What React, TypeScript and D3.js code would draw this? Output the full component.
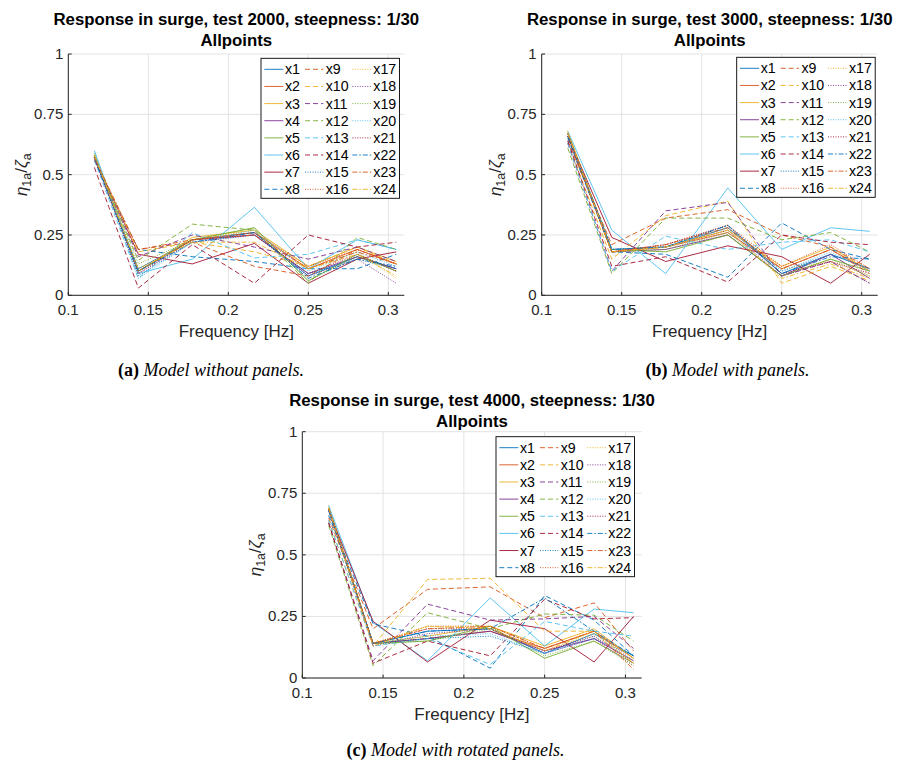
import * as d3 from 'd3'

const freqs = [0.1163, 0.1438, 0.1775, 0.2163, 0.25, 0.2806, 0.305]

// test 2000 - model without panels
const test2000 = [
  [0.58, 0.11, 0.23, 0.26, 0.08, 0.16, 0.11],
  [0.58, 0.10, 0.23, 0.26, 0.11, 0.19, 0.13],
  [0.59, 0.10, 0.24, 0.27, 0.12, 0.20, 0.14],
  [0.57, 0.10, 0.23, 0.25, 0.09, 0.16, 0.11],
  [0.58, 0.10, 0.23, 0.28, 0.06, 0.17, 0.10],
  [0.60, 0.09, 0.15, 0.365, 0.11, 0.23, 0.19],
  [0.57, 0.17, 0.13, 0.215, 0.05, 0.15, 0.18],
  [0.56, 0.19, 0.16, 0.14, 0.11, 0.11, 0.17],
  [0.56, 0.19, 0.22, 0.12, 0.08, 0.19, 0.13],
  [0.57, 0.18, 0.22, 0.18, 0.12, 0.20, 0.13],
  [0.56, 0.16, 0.25, 0.20, 0.15, 0.20, 0.14],
  [0.57, 0.145, 0.295, 0.27, 0.05, 0.24, 0.19],
  [0.56, 0.07, 0.26, 0.155, 0.17, 0.23, 0.19],
  [0.53, 0.03, 0.21, 0.05, 0.25, 0.20, 0.22],
  [0.58, 0.08, 0.22, 0.25, 0.09, 0.15, 0.11],
  [0.58, 0.10, 0.23, 0.26, 0.12, 0.19, 0.13],
  [0.58, 0.10, 0.23, 0.27, 0.11, 0.18, 0.07],
  [0.57, 0.09, 0.22, 0.25, 0.08, 0.15, 0.05],
  [0.58, 0.13, 0.23, 0.28, 0.06, 0.16, 0.10],
  [0.59, 0.07, 0.22, 0.27, 0.10, 0.18, 0.12],
  [0.57, 0.09, 0.23, 0.25, 0.09, 0.17, 0.10],
  [0.57, 0.10, 0.22, 0.26, 0.07, 0.15, 0.12],
  [0.57, 0.19, 0.23, 0.25, 0.11, 0.18, 0.13],
  [0.58, 0.11, 0.22, 0.22, 0.11, 0.17, 0.08],
]

// test 3000 - model with panels
const test3000 = [
  [0.67, 0.19, 0.20, 0.28, 0.09, 0.17, 0.11],
  [0.67, 0.18, 0.20, 0.26, 0.11, 0.19, 0.10],
  [0.68, 0.18, 0.20, 0.27, 0.12, 0.20, 0.10],
  [0.66, 0.18, 0.19, 0.25, 0.08, 0.17, 0.07],
  [0.67, 0.19, 0.18, 0.25, 0.08, 0.15, 0.10],
  [0.68, 0.27, 0.09, 0.445, 0.19, 0.28, 0.265],
  [0.66, 0.24, 0.14, 0.205, 0.16, 0.05, 0.17],
  [0.65, 0.18, 0.17, 0.075, 0.30, 0.19, 0.15],
  [0.64, 0.21, 0.32, 0.355, 0.25, 0.20, 0.11],
  [0.63, 0.15, 0.33, 0.39, 0.05, 0.12, 0.06],
  [0.63, 0.10, 0.35, 0.385, 0.08, 0.14, 0.05],
  [0.61, 0.09, 0.32, 0.32, 0.23, 0.26, 0.18],
  [0.63, 0.10, 0.245, 0.19, 0.22, 0.23, 0.18],
  [0.64, 0.12, 0.16, 0.055, 0.25, 0.22, 0.21],
  [0.67, 0.19, 0.20, 0.29, 0.10, 0.17, 0.11],
  [0.67, 0.18, 0.21, 0.29, 0.12, 0.21, 0.11],
  [0.68, 0.18, 0.20, 0.28, 0.11, 0.14, 0.08],
  [0.66, 0.19, 0.20, 0.27, 0.08, 0.14, 0.05],
  [0.66, 0.18, 0.19, 0.26, 0.08, 0.15, 0.08],
  [0.67, 0.19, 0.20, 0.28, 0.10, 0.18, 0.10],
  [0.66, 0.18, 0.21, 0.29, 0.09, 0.14, 0.09],
  [0.66, 0.19, 0.20, 0.29, 0.09, 0.16, 0.15],
  [0.67, 0.18, 0.21, 0.28, 0.11, 0.19, 0.09],
  [0.67, 0.18, 0.20, 0.27, 0.07, 0.13, 0.07],
]

// test 4000 - model with rotated panels
const test4000 = [
  [0.69, 0.14, 0.19, 0.20, 0.10, 0.18, 0.09],
  [0.69, 0.14, 0.16, 0.19, 0.12, 0.19, 0.08],
  [0.70, 0.14, 0.17, 0.21, 0.13, 0.20, 0.08],
  [0.69, 0.14, 0.16, 0.19, 0.11, 0.16, 0.07],
  [0.69, 0.14, 0.15, 0.21, 0.08, 0.15, 0.06],
  [0.70, 0.225, 0.07, 0.325, 0.13, 0.28, 0.265],
  [0.68, 0.23, 0.065, 0.235, 0.20, 0.065, 0.25],
  [0.66, 0.22, 0.17, 0.04, 0.335, 0.235, 0.09],
  [0.65, 0.20, 0.36, 0.37, 0.245, 0.305, 0.11],
  [0.64, 0.13, 0.40, 0.405, 0.19, 0.19, 0.08],
  [0.63, 0.07, 0.30, 0.235, 0.24, 0.25, 0.12],
  [0.62, 0.05, 0.265, 0.20, 0.26, 0.255, 0.15],
  [0.64, 0.13, 0.16, 0.055, 0.23, 0.19, 0.17],
  [0.63, 0.06, 0.15, 0.09, 0.32, 0.24, 0.245],
  [0.69, 0.14, 0.16, 0.17, 0.10, 0.16, 0.09],
  [0.69, 0.14, 0.21, 0.21, 0.12, 0.19, 0.07],
  [0.69, 0.14, 0.21, 0.21, 0.11, 0.18, 0.06],
  [0.68, 0.13, 0.18, 0.20, 0.10, 0.16, 0.05],
  [0.68, 0.14, 0.15, 0.20, 0.09, 0.15, 0.05],
  [0.69, 0.14, 0.17, 0.18, 0.10, 0.17, 0.07],
  [0.68, 0.14, 0.20, 0.20, 0.11, 0.17, 0.06],
  [0.68, 0.14, 0.19, 0.20, 0.325, 0.19, 0.09],
  [0.69, 0.14, 0.20, 0.21, 0.12, 0.19, 0.035],
  [0.69, 0.13, 0.21, 0.20, 0.11, 0.19, 0.06],
]

const xTicks = [0.1, 0.15, 0.2, 0.25, 0.3]
const yTicks = [0, 0.25, 0.5, 0.75, 1]
const colors = ['#0072BD', '#D95319', '#EDB120', '#7E2F8E', '#77AC30', '#4DBEEE', '#A2142F']
const dashes = ['none', '5,3', '1,1.5', '5,2,1.5,2']
const axisColor = '#262626'
const font = "'Liberation Sans', Arial, Helvetica, sans-serif"

interface IPanelProps {
  data: number[][]
  title: string
  left: number
  top: number
  width: number
  height: number
  legendX: number
  legendY: number
  titleGap: number
}

function Panel(props: IPanelProps) {
  const { data, title, left, top, width, height, legendX, legendY, titleGap } = props
  const x = d3.scaleLinear().domain([0.1, 0.31]).range([left, left + width])
  const y = d3.scaleLinear().domain([0, 1]).range([top + height, top])
  const line = d3.line<number>().x((d, i) => x(freqs[i])).y(d => y(d))
  const cx = left + width / 2
  const rowH = 17.14
  const cols = [{ l0: 3.3, l1: 22.3, t: 24 }, { l0: 44, l1: 62.3, t: 64.7 }, { l0: 91.3, l1: 110.7, t: 112.3 }]

  return (
    <g>
      <text x={cx} y={top - titleGap - 21} textAnchor="middle" fontFamily={font} fontWeight="bold" fontSize={16.8} fill="#000">{title}</text>
      <text x={cx} y={top - titleGap} textAnchor="middle" fontFamily={font} fontWeight="bold" fontSize={16.8} fill="#000">Allpoints</text>
      {/* grid */}
      {xTicks.map(t => (
        <line key={'gx' + t} x1={x(t)} x2={x(t)} y1={top} y2={top + height} stroke="#e3e3e3" strokeWidth={1} />
      ))}
      {yTicks.map(t => (
        <line key={'gy' + t} x1={left} x2={left + width} y1={y(t)} y2={y(t)} stroke="#e3e3e3" strokeWidth={1} />
      ))}
      {/* series */}
      {data.map((s, i) => (
        <path key={'s' + i} d={line(s) || ''} fill="none" stroke={colors[i % 7]} strokeWidth={0.9}
          strokeDasharray={dashes[Math.floor(i / 7)]} />
      ))}
      {/* axes */}
      <line x1={left} x2={left} y1={top} y2={top + height} stroke={axisColor} strokeWidth={1} />
      <line x1={left} x2={left + width} y1={top + height} y2={top + height} stroke={axisColor} strokeWidth={1} />
      {xTicks.map(t => (
        <g key={'tx' + t}>
          <line x1={x(t)} x2={x(t)} y1={top + height} y2={top + height - 3.4} stroke={axisColor} />
          <text x={x(t)} y={top + height + 19.5} textAnchor="middle" fontFamily={font} fontSize={15} fill={axisColor}>{t}</text>
        </g>
      ))}
      {yTicks.map(t => (
        <g key={'ty' + t}>
          <line x1={left} x2={left + 3.4} y1={y(t)} y2={y(t)} stroke={axisColor} />
          <text x={left - 5} y={y(t) + 5} textAnchor="end" fontFamily={font} fontSize={15} fill={axisColor}>{t}</text>
        </g>
      ))}
      <text x={cx} y={top + height + 41.5} textAnchor="middle" fontFamily={font} fontSize={17} fill={axisColor}>Frequency [Hz]</text>
      <text transform={`translate(${left - 41},${top + height / 2}) rotate(-90)`} textAnchor="middle" fontFamily={font} fontSize={17} fill={axisColor}>
        <tspan fontStyle="italic">η</tspan>
        <tspan fontSize={12.5} dy={4}>1a</tspan>
        <tspan dy={-4}>/</tspan>
        <tspan fontStyle="italic">ζ</tspan>
        <tspan fontSize={12.5} dy={4}>a</tspan>
      </text>
      {/* legend */}
      <rect x={legendX} y={legendY} width={138.5} height={140} fill="#fff" stroke="#000" strokeWidth={0.9} />
      {data.map((s, i) => {
        const c = cols[Math.floor(i / 8)]
        const ry = legendY + 11 + (i % 8) * rowH
        return (
          <g key={'lg' + i}>
            <line x1={legendX + c.l0} x2={legendX + c.l1} y1={ry} y2={ry} stroke={colors[i % 7]} strokeWidth={0.9}
              strokeDasharray={dashes[Math.floor(i / 7)]} />
            <text x={legendX + c.t} y={ry + 5} fontFamily={font} fontSize={14.2} fill="#000">{'x' + (i + 1)}</text>
          </g>
        )
      })}
    </g>
  )
}

function Caption(props: { x: number, y: number, tag: string, text: string }) {
  return (
    <text x={props.x} y={props.y} textAnchor="middle" fontFamily="'Liberation Serif', 'Times New Roman', serif" fontSize={18} fill="#000">
      <tspan fontWeight="bold">{props.tag}</tspan>
      <tspan fontStyle="italic">{' ' + props.text}</tspan>
    </text>
  )
}

export default function App() {
  return (
    <div style={{ position: 'absolute', left: 0, top: 0 }}>
      <svg width={900} height={762} style={{ display: 'block', background: '#fff' }}>
        <Panel data={test2000} title="Response in surge, test 2000, steepness: 1/30" left={68.3} top={54} width={336} height={241.3}
          legendX={261} legendY={58.3} titleGap={8} />
        <Panel data={test3000} title="Response in surge, test 3000, steepness: 1/30" left={541.7} top={54} width={336} height={241.3}
          legendX={736.7} legendY={57.3} titleGap={8} />
        <Panel data={test4000} title="Response in surge, test 4000, steepness: 1/30" left={302.3} top={431.7} width={339.3} height={246.3}
          legendX={496} legendY={436.7} titleGap={4.7} />
        <Caption x={211} y={376} tag="(a)" text="Model without panels." />
        <Caption x={727.5} y={376} tag="(b)" text="Model with panels." />
        <Caption x={455.5} y={756} tag="(c)" text="Model with rotated panels." />
      </svg>
    </div>
  )
}
